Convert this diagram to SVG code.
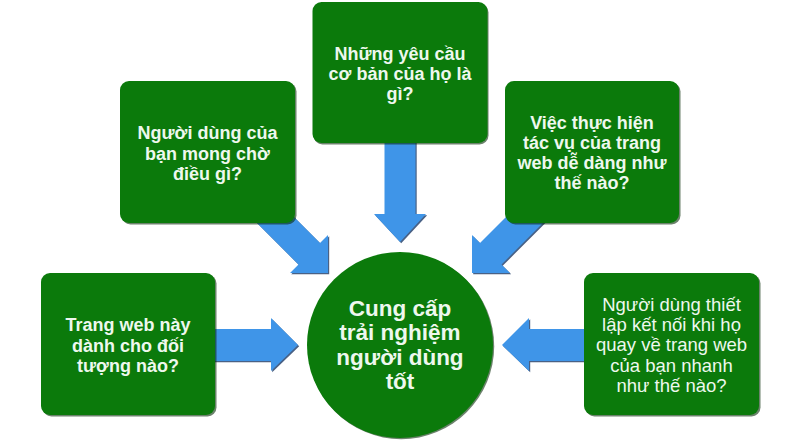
<svg xmlns="http://www.w3.org/2000/svg" width="800" height="444" viewBox="0 0 800 444">
<style>
.box{fill:#0b7a0b}
.shd{fill:#0a2e0a;opacity:0.6}
.arr{fill:#3f95e8}
.ashd{fill:#1c3a66;opacity:0.8}
.t{font-family:"Liberation Sans",Arial,sans-serif;font-weight:bold;font-size:18px;fill:#eef8ee;text-anchor:middle}
.tr{font-family:"Liberation Sans",Arial,sans-serif;font-weight:normal;font-size:18.5px;fill:#eef8ee;text-anchor:middle}
.tc{font-family:"Liberation Sans",Arial,sans-serif;font-weight:bold;font-size:22.5px;fill:#eef8ee;text-anchor:middle}
</style>
<rect width="800" height="444" fill="#ffffff"/>
<g id="connectors">
  <g transform="translate(1.2,1.2)">
    <polygon class="ashd" points="384.5,130 415.5,130 415.5,214 426,214 400,242 374,214 384.5,214"/>
    <polygon class="ashd" points="282,205 320,243 328,235 328,273 290,273 298.5,264.5 239,205"/>
    <polygon class="ashd" points="518,205 480,243 472,235 472,273 510,273 501.5,264.5 561,205"/>
    <polygon class="ashd" points="200,329 271,329 271,318 298,345 271,371 271,361 200,361"/>
    <polygon class="ashd" points="600,329 529,329 529,318 502,345 529,371 529,361 600,361"/>
  </g>
  <polygon class="arr" points="384.5,130 415.5,130 415.5,214 426,214 400,242 374,214 384.5,214"/>
  <polygon class="arr" points="282,205 320,243 328,235 328,273 290,273 298.5,264.5 239,205"/>
  <polygon class="arr" points="518,205 480,243 472,235 472,273 510,273 501.5,264.5 561,205"/>
  <polygon class="arr" points="200,329 271,329 271,318 298,345 271,371 271,361 200,361"/>
  <polygon class="arr" points="600,329 529,329 529,318 502,345 529,371 529,361 600,361"/>
</g>
<g id="node-top">
  <rect class="shd" x="313.5" y="3.5" width="175" height="141" rx="9"/>
  <rect class="box" x="312.5" y="2" width="175" height="141" rx="9"/>
  <text class="t" x="400" y="60">Những yêu cầu</text>
  <text class="t" x="400" y="80">cơ bản của họ là</text>
  <text class="t" x="400" y="100">gì?</text>
</g>
<g id="node-topleft">
  <rect class="shd" x="121.5" y="82.5" width="175" height="142" rx="9"/>
  <rect class="box" x="120" y="81" width="175" height="142" rx="9"/>
  <text class="t" x="207.5" y="139">Người dùng của</text>
  <text class="t" x="207.5" y="159.5">bạn mong chờ</text>
  <text class="t" x="207.5" y="180">điều gì?</text>
</g>
<g id="node-topright">
  <rect class="shd" x="506.5" y="82.5" width="174" height="142" rx="9"/>
  <rect class="box" x="505" y="81" width="174" height="142" rx="9"/>
  <text class="t" x="592" y="129">Việc thực hiện</text>
  <text class="t" x="592" y="149">tác vụ của trang</text>
  <text class="t" x="592" y="169">web dễ dàng như</text>
  <text class="t" x="592" y="189">thế nào?</text>
</g>
<g id="node-left">
  <rect class="shd" x="42.5" y="274.5" width="174" height="142" rx="9"/>
  <rect class="box" x="41" y="273" width="174" height="142" rx="9"/>
  <text class="t" x="128" y="331">Trang web này</text>
  <text class="t" x="128" y="351.5">dành cho đối</text>
  <text class="t" x="128" y="372">tượng nào?</text>
</g>
<g id="node-right">
  <rect class="shd" x="585.5" y="274.5" width="175" height="142" rx="9"/>
  <rect class="box" x="584" y="273" width="175" height="142" rx="9"/>
  <text class="tr" x="671.5" y="311">Người dùng thiết</text>
  <text class="tr" x="671.5" y="331">lập kết nối khi họ</text>
  <text class="tr" x="671.5" y="351">quay về trang web</text>
  <text class="tr" x="671.5" y="371.5">của bạn nhanh</text>
  <text class="tr" x="671.5" y="392">như thế nào?</text>
</g>
<g id="node-center">
  <circle class="shd" cx="401.2" cy="346.2" r="93"/>
  <circle class="box" cx="400" cy="345" r="93"/>
  <text class="tc" x="400" y="316">Cung cấp</text>
  <text class="tc" x="400" y="340.3">trải nghiệm</text>
  <text class="tc" x="400" y="364.6">người dùng</text>
  <text class="tc" x="400" y="389">tốt</text>
</g>
</svg>
